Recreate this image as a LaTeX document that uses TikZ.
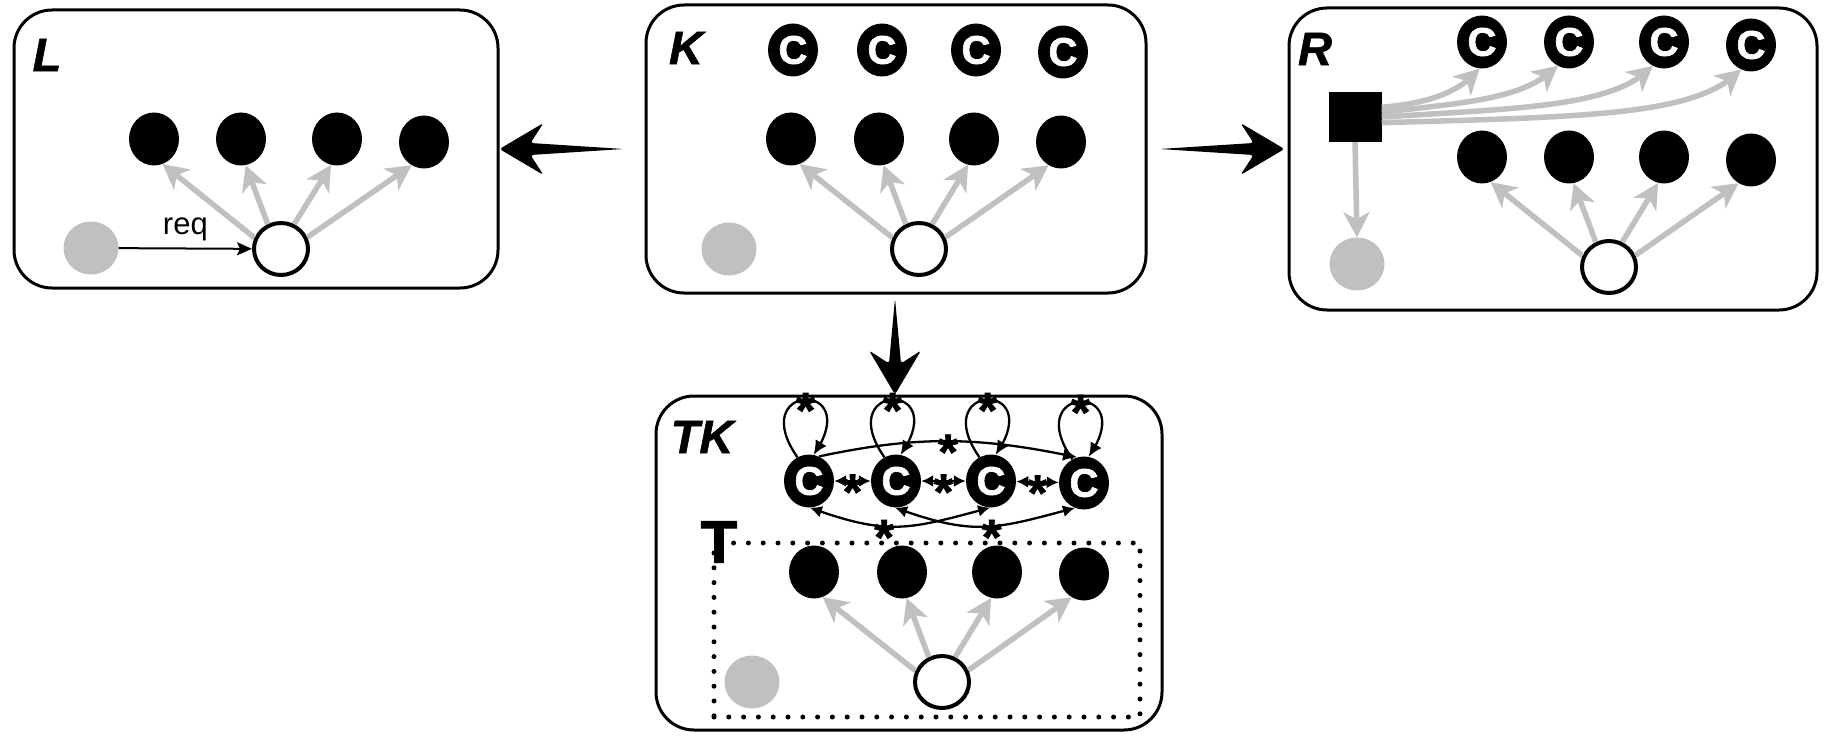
\documentclass[tikz,border=0pt]{standalone}
\usepackage{fontspec}
\setmainfont{Liberation Sans}
\newfontfamily\heavyfont[FakeBold=1.6]{Liberation Sans Bold}
\newfontfamily\heavyit[FakeBold=1.2]{Liberation Sans Bold Italic}
\newcommand{\starglyph}{\raisebox{-0.40em}[0.32em][0pt]{*}}
\usetikzlibrary{shapes.geometric,arrows.meta,calc,bending}
\definecolor{lgray}{RGB}{192,192,192}
\tikzset{
  brush/.style={fill=black, rounded corners=3pt, to path={
    let \p1=(\tikztostart), \p2=(\tikztotarget), \n1={atan2(\y2-\y1,\x2-\x1)} in
    -- ($(\p2)+(\n1+180:31pt)+(\n1+90:6pt)$)
    -- ($(\p2)+(\n1+180:44pt)+(\n1+90:26pt)$)
    -- (\p2)
    -- ($(\p2)+(\n1+180:44pt)+(\n1-90:26pt)$)
    -- ($(\p2)+(\n1+180:31pt)+(\n1-90:6pt)$)
    -- cycle}},
  box/.style={draw, line width=3pt, rounded corners=38pt, inner sep=0pt},
  lbl/.style={inner sep=0pt, font=\fontsize{47}{47}\selectfont\heavyit},
  tlbl/.style={inner sep=0pt, font=\fontsize{60}{60}\selectfont\heavyfont},
  bnode/.style={ellipse, fill=black, minimum width=50pt, minimum height=53pt, inner sep=0pt},
  cnode/.style={bnode, text=white, font=\fontsize{40}{40}\selectfont\heavyfont},
  gnode/.style={ellipse, fill=lgray, minimum width=55pt, minimum height=53pt, inner sep=0pt},
  wnode/.style={ellipse, draw=black, fill=white, line width=4pt, minimum width=54pt, minimum height=52pt, inner sep=0pt},
  sqnode/.style={rectangle, fill=black, minimum width=53pt, minimum height=50pt, inner sep=0pt},
  dotbox/.style={draw, line width=5pt, line cap=round, dash pattern=on 0pt off 14.8pt, inner sep=0pt},
  garrow/.style={draw=lgray, line width=5.5pt, -{Stealth[length=25pt,width=26pt,inset=7pt]}},
  karrow/.style={draw=black, line width=2.3pt, -{Latex[length=14pt,width=13pt]}},
  kboth/.style={draw=black, line width=2.3pt, {Latex[length=12pt,width=12pt]}-{Latex[length=12pt,width=12pt]}},
  reqarrow/.style={draw=black, line width=2pt, -{Stealth[length=15pt,width=13pt,inset=3pt]}},
  starlbl/.style={inner sep=0pt, font=\fontsize{50}{50}\selectfont\heavyfont},
  reqlbl/.style={inner sep=0pt, font=\fontsize{31}{31}\selectfont},
}
\begin{document}
\begin{tikzpicture}[x=1pt,y=1pt]
\useasboundingbox (0,0) rectangle (1828,-738);

% boxes
\node[box, minimum width=484pt, minimum height=278pt] (L) at (256,-149) {};
\node[box, minimum width=500pt, minimum height=288pt] (K) at (896,-149) {};
\node[box, minimum width=528pt, minimum height=302pt] (R) at (1553,-159) {};
\node[box, minimum width=506pt, minimum height=334pt] (TK) at (909,-563) {};
\node[dotbox, minimum width=426pt, minimum height=174pt] (Tbox) at (927,-630) {};

% labels
\node[lbl] (Llab) at (47,-55) {L};
\node[lbl] (Klab) at (686,-48) {K};
\node[lbl] (Rlab) at (1315,-49) {R};
\node[lbl] (TKlab) at (702,-437) {TK};
\node[tlbl] (Tlab) at (719,-542) {T};

% big arrows
\fill[brush] ($(K.west)+(-21,0)$) to (L.east);
\fill[brush] ($(K.east)+(12,0)$) to ($(R.west|-K.east)+(-3,0)$);
\fill[brush] ($(K.south)+(-1,-4)$) to ($(TK.north-|K.south)+(-1,0)$);

% ---- L ----
\node[bnode] (Lb1) at (154,-139) {};
\node[bnode] (Lb2) at (241,-139) {};
\node[bnode] (Lb3) at (337,-139) {};
\node[bnode] (Lb4) at (424,-142) {};
\node[gnode] (Lg) at (91,-248) {};
\node[wnode] (Lw) at (281,-249) {};
\draw[garrow] (Lw.157) -- (Lb1.-71);
\draw[garrow] (Lw.118) -- (Lb2.-80);
\draw[garrow] (Lw.62) -- (Lb3.-103);
\draw[garrow] (Lw.24) -- (Lb4.-118);
\draw[reqarrow] (Lg) -- node[reqlbl, above=7pt]{req} (Lw);

% ---- K ----
\node[cnode] (Kc1) at (793,-50) {C};
\node[cnode] (Kc2) at (882,-50) {C};
\node[cnode] (Kc3) at (976,-50) {C};
\node[cnode] (Kc4) at (1063,-52) {C};
\node[bnode] (Kb1) at (791,-139) {};
\node[bnode] (Kb2) at (879,-139) {};
\node[bnode] (Kb3) at (974,-139) {};
\node[bnode] (Kb4) at (1061,-142) {};
\node[gnode] (Kg) at (729,-249) {};
\node[wnode] (Kw) at (919,-249) {};
\draw[garrow] (Kw.157) -- (Kb1.-71);
\draw[garrow] (Kw.118) -- (Kb2.-80);
\draw[garrow] (Kw.62) -- (Kb3.-103);
\draw[garrow] (Kw.24) -- (Kb4.-118);

% ---- R ----
\node[cnode] (Rc1) at (1482,-42) {C};
\node[cnode] (Rc2) at (1569,-42) {C};
\node[cnode] (Rc3) at (1664,-42) {C};
\node[cnode] (Rc4) at (1751,-45) {C};
\node[bnode] (Rb1) at (1482,-157) {};
\node[bnode] (Rb2) at (1569,-157) {};
\node[bnode] (Rb3) at (1664,-157) {};
\node[bnode] (Rb4) at (1751,-160) {};
\node[sqnode] (Rsq) at (1355,-117) {};
\node[gnode] (Rg) at (1357,-264) {};
\node[wnode] (Rw) at (1609,-267) {};
\draw[garrow] (Rw.157) -- (Rb1.-71);
\draw[garrow] (Rw.118) -- (Rb2.-80);
\draw[garrow] (Rw.62) -- (Rb3.-103);
\draw[garrow] (Rw.24) -- (Rb4.-118);
\draw[garrow] (Rsq.south) -- (Rg.north);
\draw[garrow] (Rsq.20) .. controls +(37,3) and +(-22,-27) .. (Rc1.-95);
\draw[garrow] (Rsq.10) .. controls +(87,10) and +(-33,-33) .. (Rc2.-115);
\draw[garrow] (Rsq.0) .. controls +(147,9) and +(-38,-40) .. (Rc3.-115);
\draw[garrow] (Rsq.-12) .. controls +(217,6) and +(-43,-45) .. (Rc4.-112);

% ---- TK ----
\node[cnode] (Tc1) at (809,-481) {C};
\node[cnode] (Tc2) at (896,-481) {C};
\node[cnode] (Tc3) at (991,-481) {C};
\node[cnode] (Tc4) at (1084,-483) {C};
\node[bnode] (Tb1) at (814,-572) {};
\node[bnode] (Tb2) at (902,-572) {};
\node[bnode] (Tb3) at (997,-572) {};
\node[bnode] (Tb4) at (1084,-574) {};
\node[gnode] (Tg) at (752,-682) {};
\node[wnode] (Tw) at (942,-682) {};
\draw[garrow] (Tw.157) -- (Tb1.-71);
\draw[garrow] (Tw.118) -- (Tb2.-80);
\draw[garrow] (Tw.62) -- (Tb3.-103);
\draw[garrow] (Tw.24) -- (Tb4.-118);

% self loops
\draw[karrow] (Tc1.116) .. controls +(125:92) and +(55:92) .. (Tc1.80) node[starlbl, pos=.5]{\starglyph};
\draw[karrow] (Tc2.116) .. controls +(125:92) and +(55:92) .. (Tc2.80) node[starlbl, pos=.5]{\starglyph};
\draw[karrow] (Tc3.116) .. controls +(125:92) and +(55:92) .. (Tc3.80) node[starlbl, pos=.5]{\starglyph};
\draw[karrow] (Tc4.116) .. controls +(125:92) and +(55:92) .. (Tc4.80) node[starlbl, pos=.5]{\starglyph};
% neighbours
\draw[kboth] (Tc1) -- node[starlbl]{\starglyph} (Tc2);
\draw[kboth] (Tc2) -- node[starlbl]{\starglyph} (Tc3);
\draw[kboth] (Tc3) -- node[starlbl]{\starglyph} (Tc4);
% long arcs
\draw[karrow] (Tc1.68) to[out=12, in=168] node[starlbl, pos=.5]{\starglyph} (Tc4.105);
\draw[kboth] (Tc1.-88) to[out=-20, in=195, looseness=1.2] node[starlbl, pos=.4]{\starglyph} (Tc3.-92);
\draw[kboth] (Tc2.-92) to[out=-20, in=195, looseness=1.2] node[starlbl, pos=.55]{\starglyph} (Tc4.-110);
\end{tikzpicture}
\end{document}
